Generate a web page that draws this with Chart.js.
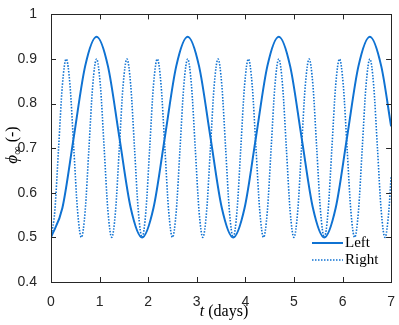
<!DOCTYPE html>
<html>
<head>
<meta charset="utf-8">
<script src="https://cdn.jsdelivr.net/npm/chart.js@4"></script>
<style>
  html, body { margin: 0; padding: 0; background: #fff; }
</style>
</head>
<body>
<canvas id="phi_chart" width="399" height="325"></canvas>
<script>
// values (t in days)
var left_t = [0, 0.234, 0.469, 0.703, 0.938, 1.172, 1.406, 1.641, 1.875, 2.109, 2.344, 2.578, 2.813, 3.047, 3.281,
  3.516, 3.75, 3.984, 4.219, 4.453, 4.688, 4.922, 5.156, 5.391, 5.625, 5.859, 6.094, 6.328, 6.563, 6.797, 7];
var left_phi = [0.5, 0.566, 0.725, 0.884, 0.95, 0.884, 0.725, 0.566, 0.5, 0.566, 0.725, 0.884, 0.95, 0.884, 0.725,
  0.566, 0.5, 0.566, 0.725, 0.884, 0.95, 0.884, 0.725, 0.566, 0.5, 0.566, 0.725, 0.884, 0.95, 0.884, 0.749];

var right_t = [0, 0.078, 0.156, 0.234, 0.313, 0.391, 0.469, 0.547, 0.625, 0.703, 0.781, 0.859, 0.938, 1.016, 1.094,
  1.172, 1.25, 1.328, 1.406, 1.484, 1.563, 1.641, 1.719, 1.797, 1.875, 1.953, 2.031, 2.109, 2.188, 2.266, 2.344,
  2.422, 2.5, 2.578, 2.656, 2.734, 2.813, 2.891, 2.969, 3.047, 3.125, 3.203, 3.281, 3.359, 3.438, 3.516, 3.594,
  3.672, 3.75, 3.828, 3.906, 3.984, 4.063, 4.141, 4.219, 4.297, 4.375, 4.453, 4.531, 4.609, 4.688, 4.766, 4.844,
  4.922, 5, 5.078, 5.156, 5.234, 5.313, 5.391, 5.469, 5.547, 5.625, 5.703, 5.781, 5.859, 5.938, 6.016, 6.094,
  6.172, 6.25, 6.328, 6.406, 6.484, 6.563, 6.641, 6.719, 6.797, 6.875, 6.953, 7];
var right_phi = [0.5, 0.559, 0.7, 0.841, 0.9, 0.841, 0.7, 0.559, 0.5, 0.559, 0.7, 0.841, 0.9, 0.841, 0.7,
  0.559, 0.5, 0.559, 0.7, 0.841, 0.9, 0.841, 0.7, 0.559, 0.5, 0.559, 0.7, 0.841, 0.9, 0.841, 0.7,
  0.559, 0.5, 0.559, 0.7, 0.841, 0.9, 0.841, 0.7, 0.559, 0.5, 0.559, 0.7, 0.841, 0.9, 0.841, 0.7,
  0.559, 0.5, 0.559, 0.7, 0.841, 0.9, 0.841, 0.7, 0.559, 0.5, 0.559, 0.7, 0.841, 0.9, 0.841, 0.7,
  0.559, 0.5, 0.559, 0.7, 0.841, 0.9, 0.841, 0.7, 0.559, 0.5, 0.559, 0.7, 0.841, 0.9, 0.841, 0.7,
  0.559, 0.5, 0.559, 0.7, 0.841, 0.9, 0.841, 0.7, 0.559, 0.5, 0.559, 0.638];

var x_ticks = [0, 1, 2, 3, 4, 5, 6, 7];
var y_ticks = [0.4, 0.5, 0.6, 0.7, 0.8, 0.9, 1];
var series_names = ['Left', 'Right'];

var line_color = '#0f72d2';
var axis_color = '#262626';
var sans = '"Liberation Sans", Arial, sans-serif';
var serif = '"Liberation Serif", "DejaVu Serif", serif';

function pts(xs, ys) {
  return xs.map(function (x, i) { return { x: x, y: ys[i] }; });
}

// MATLAB-like box with inward ticks, axis titles and legend
var matlab_axes = {
  id: 'matlab_axes',
  afterDraw: function (chart) {
    var ctx = chart.ctx;
    var a = chart.chartArea;
    var xs = chart.scales.x, ys = chart.scales.y;
    ctx.save();
    ctx.strokeStyle = axis_color;
    ctx.lineWidth = 1;
    ctx.strokeRect(Math.round(a.left) + 0.5, Math.round(a.top) + 0.5,
      Math.round(a.right - a.left), Math.round(a.bottom - a.top));
    ctx.beginPath();
    x_ticks.forEach(function (v) {
      var px = Math.round(xs.getPixelForValue(v)) + 0.5;
      ctx.moveTo(px, a.bottom); ctx.lineTo(px, a.bottom - 5);
      ctx.moveTo(px, a.top); ctx.lineTo(px, a.top + 5);
    });
    y_ticks.forEach(function (v) {
      var py = Math.round(ys.getPixelForValue(v)) + 0.5;
      ctx.moveTo(a.left, py); ctx.lineTo(a.left + 5, py);
      ctx.moveTo(a.right, py); ctx.lineTo(a.right - 5, py);
    });
    ctx.stroke();

    // x title: t (days)
    ctx.fillStyle = '#000';
    ctx.textBaseline = 'alphabetic';
    var cx = (a.left + a.right) / 2 + 3;
    ctx.font = 'italic 16px ' + serif;
    var w1 = ctx.measureText('t').width;
    ctx.font = '16px ' + serif;
    var w2 = ctx.measureText(' (days)').width;
    var sx = cx - (w1 + w2) / 2;
    ctx.font = 'italic 16px ' + serif;
    ctx.fillText('t', sx, 316);
    ctx.font = '16px ' + serif;
    ctx.fillText(' (days)', sx + w1, 316);

    // y title: phi_inf (-)
    ctx.save();
    ctx.translate(17, 145);
    ctx.rotate(-Math.PI / 2);
    ctx.font = 'italic 17px ' + serif;
    var p1 = ctx.measureText('\u03D5').width;
    ctx.font = '12px ' + serif;
    var p2 = ctx.measureText('\u221E').width;
    ctx.font = '16px ' + serif;
    var p3 = ctx.measureText(' (-)').width;
    var start = -(p1 + p2 + p3) / 2;
    ctx.font = 'italic 17px ' + serif;
    ctx.fillText('\u03D5', start, 0);
    ctx.font = '12px ' + serif;
    ctx.fillText('\u221E', start + p1, 4);
    ctx.font = '16px ' + serif;
    ctx.fillText(' (-)', start + p1 + p2, 0);
    ctx.restore();

    // legend
    var lx = 312, ly = [243, 260];
    ctx.strokeStyle = line_color;
    chart.data.datasets.forEach(function (ds, i) {
      ctx.lineWidth = ds.borderWidth;
      ctx.setLineDash(ds.borderDash || []);
      ctx.beginPath();
      ctx.moveTo(lx, ly[i]); ctx.lineTo(lx + 31, ly[i]);
      ctx.stroke();
      ctx.setLineDash([]);
      ctx.fillStyle = '#000';
      ctx.font = '15px ' + serif;
      ctx.textBaseline = 'middle';
      ctx.fillText(ds.label, lx + 33, ly[i]);
    });
    ctx.restore();
  }
};

new Chart(document.getElementById('phi_chart').getContext('2d'), {
  type: 'line',
  data: {
    datasets: [{
      label: series_names[0],
      data: pts(left_t, left_phi),
      borderColor: line_color,
      borderWidth: 2,
      pointRadius: 0,
      cubicInterpolationMode: 'monotone'
    }, {
      label: series_names[1],
      data: pts(right_t, right_phi),
      borderColor: line_color,
      borderWidth: 1.6,
      borderDash: [1.5, 1.5],
      pointRadius: 0,
      cubicInterpolationMode: 'monotone'
    }]
  },
  options: {
    responsive: false,
    animation: false,
    layout: { padding: { left: 0, top: 8, right: 7, bottom: 0 } },
    plugins: { legend: { display: false }, tooltip: { enabled: false } },
    scales: {
      x: {
        type: 'linear', min: 0, max: 7,
        afterBuildTicks: function (s) { s.ticks = x_ticks.map(function (v) { return { value: v }; }); },
        afterFit: function (s) { s.height = 43; },
        grid: { display: false },
        border: { display: false },
        ticks: { color: axis_color, font: { family: sans, size: 14 }, padding: 4, maxRotation: 0 }
      },
      y: {
        type: 'linear', min: 0.4, max: 1,
        afterBuildTicks: function (s) { s.ticks = y_ticks.map(function (v) { return { value: v }; }); },
        afterFit: function (s) { s.width = 51; },
        grid: { display: false },
        border: { display: false },
        ticks: {
          color: axis_color, font: { family: sans, size: 14 }, padding: 6,
          callback: function (v) { return String(Math.round(v * 10) / 10); }
        }
      }
    }
  },
  plugins: [matlab_axes]
});
</script>
</body>
</html>
